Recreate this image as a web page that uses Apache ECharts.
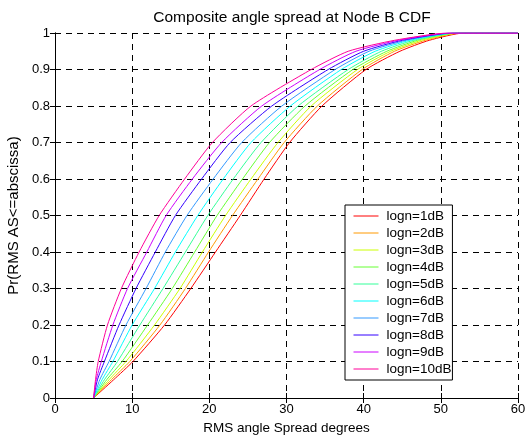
<!DOCTYPE html>
<html>
<head>
<meta charset="utf-8">
<script src="https://cdn.jsdelivr.net/npm/echarts@6/dist/echarts.min.js"></script>
<style>html,body{margin:0;padding:0;background:#fff;}#c{width:525px;height:437px;}</style>
</head>
<body>
<div id="c"></div>
<script>
const probs = [0, 0.05, 0.1, 0.2, 0.3, 0.4, 0.5, 0.6, 0.7, 0.8, 0.9, 0.95, 0.98, 1, 1];
const seriesNames = ['logn=1dB','logn=2dB','logn=3dB','logn=4dB','logn=5dB','logn=6dB','logn=7dB','logn=8dB','logn=9dB','logn=10dB'];
const x1dB  = [5, 7.6, 10.1, 14.2, 17.6, 20.8, 24.0, 27.1, 30.4, 34.6, 40.3, 44.7, 48.5, 53.0, 60];
const x2dB  = [5, 7.3, 9.7, 13.6, 16.9, 19.9, 23.0, 26.3, 29.7, 34.0, 39.8, 44.0, 48.0, 52.5, 60];
const x3dB  = [5, 7.0, 9.2, 12.9, 16.2, 19.1, 22.1, 25.4, 28.9, 33.2, 39.2, 43.5, 47.5, 52.5, 60];
const x4dB  = [5, 6.7, 8.7, 12.0, 15.2, 18.1, 21.0, 24.3, 27.8, 32.4, 38.6, 43.0, 47.0, 52.0, 60];
const x5dB  = [5, 6.4, 8.1, 11.0, 14.0, 16.9, 19.8, 23.1, 26.7, 31.5, 38.0, 42.3, 46.5, 52.0, 60];
const x6dB  = [5, 6.1, 7.5, 10.0, 12.9, 15.6, 18.5, 21.8, 25.4, 30.5, 37.1, 41.5, 46.0, 52.0, 60];
const x7dB  = [5, 5.8, 7.0, 9.2, 11.8, 14.3, 17.1, 20.5, 24.2, 29.4, 36.3, 40.7, 45.5, 51.5, 60];
const x8dB  = [5, 5.5, 6.4, 8.3, 10.5, 13.0, 15.6, 19.0, 22.7, 28.1, 35.4, 40.0, 45.0, 51.5, 60];
const x9dB  = [5, 5.35, 6.0, 7.5, 9.4, 11.9, 14.4, 17.8, 21.6, 26.8, 34.3, 39.0, 44.5, 51.0, 60];
const x10dB = [5, 5.25, 5.6, 6.8, 8.6, 10.9, 13.5, 16.8, 20.4, 25.4, 33.2, 38.0, 44.0, 51.0, 60];
const seriesX = [x1dB, x2dB, x3dB, x4dB, x5dB, x6dB, x7dB, x8dB, x9dB, x10dB];
const colors = ['#ff0000','#ff9900','#ccff00','#66ff33','#33ff99','#00ffff','#3399ff','#3300ff','#cc00ff','#ff0099'];
const xTicks = [0, 10, 20, 30, 40, 50, 60];
const yTicks = [0, 0.1, 0.2, 0.3, 0.4, 0.5, 0.6, 0.7, 0.8, 0.9, 1];

const FONT = 'Liberation Sans, Arial, sans-serif';
const chart = echarts.init(document.getElementById('c'), null, {renderer: 'canvas'});
const dash = {color: '#000', width: 1, type: [6, 5]};
const series = seriesNames.map((n, i) => ({
  name: n, type: 'line', symbol: 'none', smooth: 0.2,
  lineStyle: {width: 1, color: colors[i]}, itemStyle: {color: colors[i]},
  data: seriesX[i].map((x, k) => [x, probs[k]]), z: 3
}));
chart.setOption({
  animation: false,
  backgroundColor: '#fff',
  title: {text: 'Composite angle spread at Node B CDF', left: 287, textAlign: 'center', top: 5,
    textStyle: {fontFamily: FONT, fontSize: 15.5, fontWeight: 'normal', color: '#000'}},
  grid: {left: 55, right: 7, top: 33, bottom: 39, containLabel: false, outerBoundsMode: 'none'},
  legend: {
    orient: 'vertical', left: 345, top: 205, padding: [4, 1, 4, 8],
    itemWidth: 25, itemHeight: 14, itemGap: 3,
    backgroundColor: '#fff', borderColor: '#000', borderWidth: 1, borderRadius: 0,
    itemStyle: {opacity: 0}, lineStyle: {width: 1},
    data: seriesNames,
    textStyle: {fontFamily: FONT, fontSize: 13.5, color: '#000', lineHeight: 14, padding: [0, 0, 0, 3]}
  },
  xAxis: [{
    type: 'value', min: 0, max: 60, interval: 10,
    name: 'RMS angle Spread degrees', nameLocation: 'middle', nameGap: 19,
    nameTextStyle: {fontFamily: FONT, fontSize: 13.5, color: '#000'},
    axisLine: {show: true, lineStyle: {color: '#000', width: 1}},
    axisTick: {show: true, inside: true, length: 5, lineStyle: {color: '#000'}},
    axisLabel: {fontFamily: FONT, fontSize: 13, color: '#000', margin: 5,
      formatter: v => xTicks.includes(v) ? String(v) : ''},
    splitLine: {show: true, lineStyle: dash}
  }, {
    type: 'value', min: 0, max: 60, interval: 10, position: 'top',
    axisLine: {show: true, lineStyle: {color: '#000', width: 1}},
    axisTick: {show: true, inside: true, length: 5, lineStyle: {color: '#000'}},
    axisLabel: {show: false}, splitLine: {show: false}
  }],
  yAxis: [{
    type: 'value', min: 0, max: 1, interval: 0.1,
    name: 'Pr(RMS AS<=abscissa)', nameLocation: 'middle', nameGap: 34,
    nameTextStyle: {fontFamily: FONT, fontSize: 15, color: '#000'},
    axisLine: {show: true, lineStyle: {color: '#000', width: 1}},
    axisTick: {show: true, inside: true, length: 5, lineStyle: {color: '#000'}},
    axisLabel: {fontFamily: FONT, fontSize: 13, color: '#000', margin: 5,
      formatter: v => { const t = yTicks.find(y => Math.abs(y - v) < 1e-6); return t === undefined ? '' : (t === 0 || t === 1 ? String(t) : t.toFixed(1)); }},
    splitLine: {show: true, lineStyle: dash}
  }, {
    type: 'value', min: 0, max: 1, interval: 0.1, position: 'right',
    axisLine: {show: true, lineStyle: {color: '#000', width: 1}},
    axisTick: {show: true, inside: true, length: 5, lineStyle: {color: '#000'}},
    axisLabel: {show: false}, splitLine: {show: false}
  }],
  series: series
});
</script>
</body>
</html>
